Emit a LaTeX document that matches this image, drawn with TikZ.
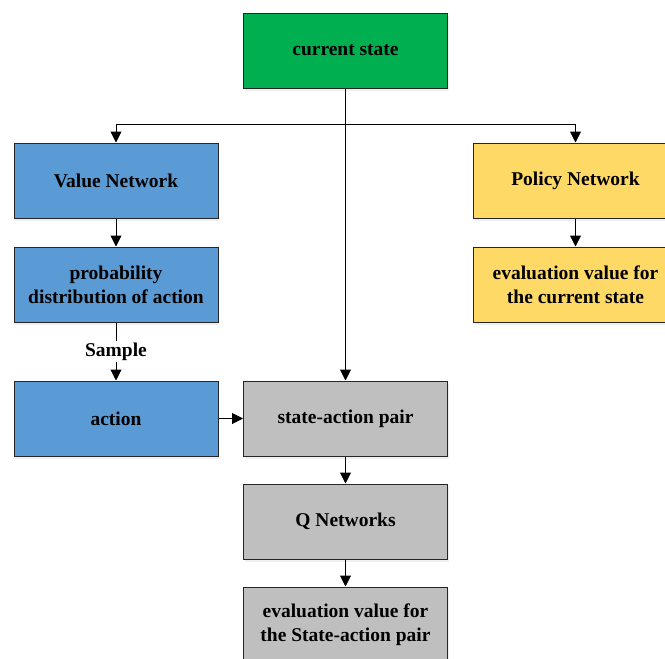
\documentclass[tikz,border=0pt]{standalone}
\usepackage{fontspec}
\setmainfont{Liberation Serif}
\usepackage{xcolor}
\usepackage{tikz}
\usetikzlibrary{arrows.meta}
\usetikzlibrary{positioning, shadows}

\definecolor{stategreen}{HTML}{00B050}
\definecolor{netblue}{HTML}{5B9BD5}
\definecolor{netyellow}{HTML}{FFD966}
\definecolor{pairgray}{HTML}{BFBFBF}

\begin{document}
\begin{tikzpicture}[
      x=1pt, y=-1pt,
      node distance=28pt,
      box/.style={draw=black!85, line width=1pt, minimum width=204pt, minimum height=75pt,
        align=center, font=\fontsize{19.5}{24}\selectfont\bfseries,
        drop shadow={opacity=0.12, shadow xshift=1pt, shadow yshift=-2.5pt}},
      green_box/.style={box, fill=stategreen},
      blue_box/.style={box, fill=netblue},
      yellow_box/.style={box, fill=netyellow},
      gray_box/.style={box, fill=pairgray},
      arr/.style={line width=1pt, -{Triangle[width=11pt, length=11pt]}}
  ]

  % 1. Cornice
  \clip (0, 0) rectangle (665, 659);
  \fill[white] (0, 0) rectangle (665, 659);

  % 2. Stato corrente e reti
  \node[green_box] (cur) at (345.5, 50.5) {current state};
  \node[blue_box] (val) at (116, 180.5) {Value Network};
  \node[yellow_box] (pol) at (575.5, 180.5) {Policy Network};

  \node[blue_box, below=of val] (prob) {probability\\distribution of action};
  \node[yellow_box, below=of pol] (evalc) {evaluation value for\\the current state};
  \node[blue_box, below=58pt of prob] (act) {action};

  % 3. Coppia stato-azione e rete Q
  \node[gray_box] (sap) at (cur |- act) {state-action pair};
  \node[gray_box, below=27pt of sap] (qn) {Q Networks};
  \node[gray_box, below=27pt of qn] (evsa) {evaluation value for\\the State-action pair};

  % 4. Collegamenti
  \coordinate (bus) at (345.5, 124);
  \draw[arr] (cur.south) -- (sap.north);
  \draw[arr] (bus) -| (val.north);
  \draw[arr] (bus) -| (pol.north);
  \draw[arr] (val) -- (prob);
  \draw[arr] (pol) -- (evalc);
  \draw[arr] (prob) -- (act)
    node[midway, fill=white, inner sep=2pt, font=\fontsize{19.5}{24}\selectfont\bfseries] {Sample};
  \draw[arr] (act) -- (sap);
  \draw[arr] (sap) -- (qn);
  \draw[arr] (qn) -- (evsa);

\end{tikzpicture}
\end{document}
